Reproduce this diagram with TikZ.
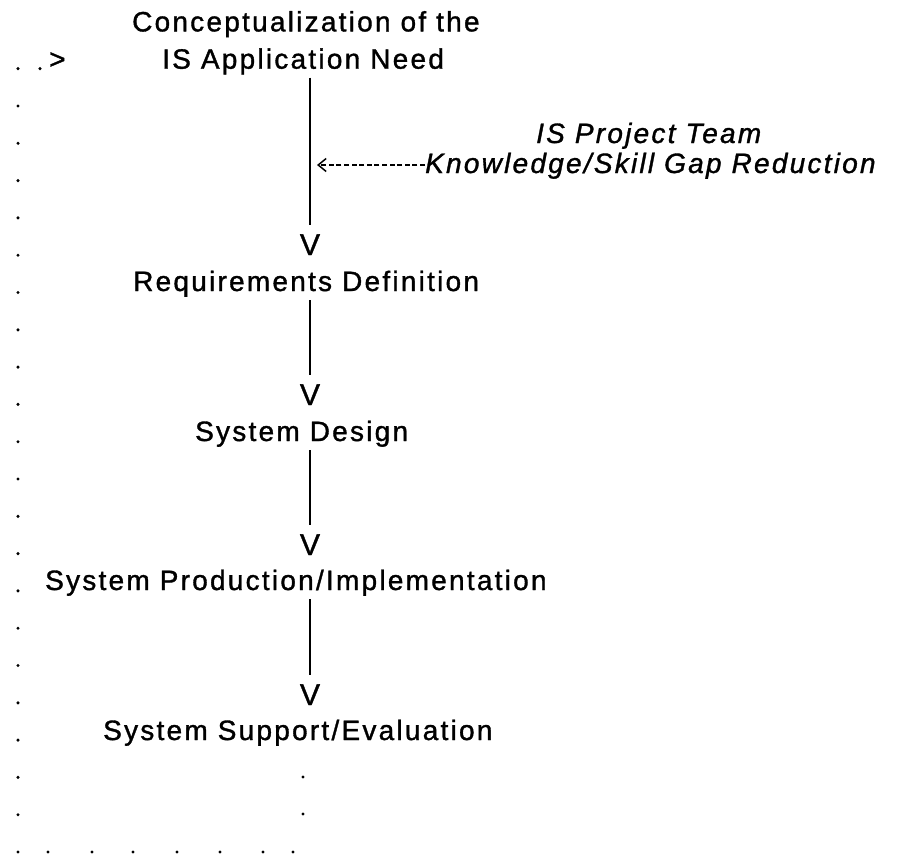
\documentclass[tikz,border=0pt]{standalone}
\usepackage{fontspec}
\setmainfont[LetterSpace=8,FakeBold=1.2]{Liberation Sans}
\usetikzlibrary{arrows.meta}

\begin{document}
\begin{tikzpicture}[x=1pt,y=-1pt,
    stage/.style={anchor=base west,inner sep=0pt,font=\fontsize{28}{32}\selectfont},
    teamtext/.style={stage,font=\fontsize{28}{32}\selectfont\itshape},
    vhead/.style={anchor=base,inner sep=0pt,font=\fontsize{30}{32}\selectfont},
    stem/.style={line width=2.8pt,shorten <=3pt,shorten >=9pt},
    gaparrow/.style={line width=1.5pt,dash pattern=on 5pt off 2.6pt,shorten >=7pt,
      -{Straight Barb[length=8pt,width=13pt,line width=1.5pt]}}]
    \useasboundingbox (0,0) rectangle (907,856);
    % stages
    \node[stage] (concept) at (132,31.4) {Conceptualization of the};
    \node[stage] (need) at (162,68.7) {IS Application Need};
    \node[vhead] (v1) at (310,255) {V};
    \node[stage] (req) at (133,291) {Requirements Definition};
    \node[vhead] (v2) at (310,405) {V};
    \node[stage] (design) at (195,441) {System Design};
    \node[vhead] (v3) at (310,555) {V};
    \node[stage] (prod) at (45,590) {System Production/Implementation};
    \node[vhead] (v4) at (310,705) {V};
    \node[stage] (support) at (103,740) {System Support/Evaluation};
    \draw[stem] (need.south -| v1) -- (v1.north);
    \draw[stem] (req.south -| v2) -- (v2.north);
    \draw[stem] (design.south -| v3) -- (v3.north);
    \draw[stem] (prod.south -| v4) -- (v4.north);
    % project team
    \node[teamtext] (team) at (536,143) {IS Project Team};
    \node[teamtext] (gap) at (425,173) {Knowledge/Skill Gap Reduction};
    \draw[gaparrow] ([yshift=8pt]gap.base west) -- ([yshift=8pt]gap.base west -| v1);
    % feedback loop
    \foreach \k in {0,...,21}
      \fill (18,{68.7+37.3*\k}) circle (1.7pt);
    \foreach \x in {48,92,133,177,220,263,293}
      \fill (\x,852) circle (1.7pt);
    \foreach \y in {777,814}
      \fill (303,\y) circle (1.7pt);
    \fill (40,68.7) circle (1.7pt);
    \node[stage] (back) at (49,68.7) {>};
\end{tikzpicture}
\end{document}
